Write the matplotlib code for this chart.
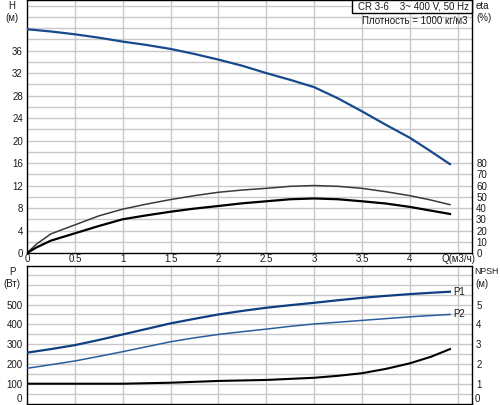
import matplotlib
matplotlib.use("Agg")
import matplotlib.pyplot as plt
from matplotlib.patches import Rectangle
import numpy as np

plt.rcParams['font.family'] = ['Liberation Sans', 'DejaVu Sans']

# ---- data ----
q_h = [0, 0.25, 0.5, 0.75, 1, 1.25, 1.5, 1.75, 2, 2.25, 2.5, 2.75, 3, 3.25, 3.5, 3.75, 4, 4.2, 4.42]
head = [39.8, 39.4, 38.9, 38.3, 37.6, 37.0, 36.3, 35.4, 34.4, 33.3, 32.0, 30.8, 29.5, 27.5,
        25.2, 22.8, 20.5, 18.3, 15.8]

q_eta = [0, 0.1, 0.25, 0.5, 0.75, 1, 1.25, 1.5, 1.75, 2, 2.25, 2.5, 2.75, 3, 3.25, 3.5, 3.75, 4, 4.2, 4.42]
eta_pump = [0, 8, 17, 25, 33, 39, 43.5, 47.5, 51, 54, 56, 57.5, 59.3, 60, 59.3, 57.5, 54.5, 51,
            47.5, 43]
eta_total = [0, 5, 11, 17.5, 24, 30, 33.5, 36.7, 39.5, 41.8, 44.2, 46, 47.8, 48.5, 47.8, 46, 44,
             41, 38, 34.7]

q_p = [0, 0.25, 0.5, 0.75, 1, 1.25, 1.5, 1.75, 2, 2.25, 2.5, 2.75, 3, 3.25, 3.5, 3.75, 4, 4.2, 4.42]
p1 = [257, 275, 295, 321, 349, 377, 405, 428, 450, 468, 484, 497, 509, 522, 534, 544, 553, 559, 565]
p2 = [178, 196, 215, 238, 262, 287, 312, 332, 349, 363, 376, 390, 402, 411, 420, 429, 438, 444, 450]

q_npsh = [0, 0.5, 1, 1.5, 2, 2.5, 3, 3.25, 3.5, 3.75, 4, 4.22, 4.42]
npsh = [1.0, 1.0, 1.0, 1.05, 1.14, 1.19, 1.30, 1.40, 1.53, 1.75, 2.03, 2.36, 2.75]

x_ticks = [0, 0.5, 1, 1.5, 2, 2.5, 3, 3.5, 4]
x_ticklabels = ['0', '0.5', '1', '1.5', '2', '2.5', '3', '3.5', '4']
h_ticks = [0, 4, 8, 12, 16, 20, 24, 28, 32, 36]
eta_ticks = [0, 10, 20, 30, 40, 50, 60, 70, 80]
p_ticks = [100, 200, 300, 400, 500]
npsh_ticks = [1, 2, 3, 4, 5]

W, H = 500, 405
fig = plt.figure(figsize=(5, 4.05), dpi=100)

def fx(px):
    return px / W

def fy(py):
    return 1 - py / H

L, R = 27, 472
ax1 = fig.add_axes([fx(L), fy(253), fx(R - L), fy(0) - fy(253)])
ax2 = fig.add_axes([fx(L), fy(403.5), fx(R - L), fy(266) - fy(403.5)])

grid_c = '#c9c9c9'
fs = 7
tc = '#1a1a1a'
XMAX = 4.65

for ax in (ax1, ax2):
    ax.set_xlim(0, XMAX)
    for v in np.arange(0.5, 4.51, 0.5):
        ax.axvline(v, color=grid_c, lw=1, zorder=0)
    for s in ax.spines.values():
        s.set_linewidth(1.0)
        s.set_color('black')
    ax.tick_params(length=0, labelsize=fs, colors=tc, pad=3)

# top axes
ax1.set_ylim(0, 45)
for v in np.arange(2, 45, 2):
    ax1.axhline(v, color=grid_c, lw=1, zorder=0)
ax1.set_yticks(h_ticks)
ax1.set_xticks(x_ticks)
ax1.set_xticklabels(x_ticklabels)
ax1.tick_params(axis='x', pad=1)
ax1.plot(q_h, head, color='#174a8c', lw=1.6, zorder=3)

ax1r = ax1.twinx()
ax1r.set_ylim(0, 225)
ax1r.set_yticks(eta_ticks)
ax1r.tick_params(length=0, labelsize=fs, colors=tc, pad=3)
for s in ax1r.spines.values():
    s.set_visible(False)
ax1r.plot(q_eta, eta_pump, color='#3a3a3a', lw=1.1, zorder=3)
ax1r.plot(q_eta, eta_total, color='black', lw=1.6, zorder=3)

fig.text(fx(458), fy(259), 'Q(м3/ч)', fontsize=fs, color=tc, ha='center', va='center')

# box and density
fig.patches.append(Rectangle((fx(352), fy(13)), fx(472) - fx(352), fy(0) - fy(13),
                             transform=fig.transFigure, fc='white', ec='black', lw=1,
                             zorder=5))
fig.text(fx(413), fy(6.5), 'CR 3-6    3~ 400 V, 50 Hz', fontsize=fs, color=tc,
         ha='center', va='center', zorder=6)
fig.text(fx(467), fy(21), 'Плотность = 1000 кг/м3', fontsize=fs, color=tc,
         ha='right', va='center')

fig.text(fx(12), fy(6), 'H', fontsize=fs, color=tc, ha='center', va='center')
fig.text(fx(12), fy(18), '(м)', fontsize=fs, color=tc, ha='center', va='center')
fig.text(fx(476), fy(6), 'eta', fontsize=fs, color=tc, ha='left', va='center')
fig.text(fx(476), fy(18), '(%)', fontsize=fs, color=tc, ha='left', va='center')

# bottom axes
ax2.set_ylim(0, 695)
for v in np.arange(50, 695, 50):
    ax2.axhline(v, color=grid_c, lw=1, zorder=0)
ax2.set_yticks(p_ticks)
ax2.set_xticks([])
ax2.plot(q_p, p1, color='#0f3f80', lw=1.6, zorder=3)
ax2.plot(q_p, p2, color='#2a5d9c', lw=1.1, zorder=3)
ax2.text(q_p[-1] + 0.03, p1[-1], 'P1', fontsize=fs, color=tc, ha='left', va='center')
ax2.text(q_p[-1] + 0.03, p2[-1], 'P2', fontsize=fs, color=tc, ha='left', va='center')

ax2r = ax2.twinx()
ax2r.set_ylim(0, 6.95)
ax2r.set_yticks(npsh_ticks)
ax2r.tick_params(length=0, labelsize=fs, colors=tc, pad=3)
for s in ax2r.spines.values():
    s.set_visible(False)
ax2r.plot(q_npsh, npsh, color='black', lw=1.5, zorder=3)

# zero labels lifted to stay inside the image
fig.text(fx(22), fy(399), '0', fontsize=fs, color=tc, ha='right', va='center')
fig.text(fx(475), fy(399), '0', fontsize=fs, color=tc, ha='left', va='center')

fig.text(fx(12), fy(272), 'P', fontsize=fs, color=tc, ha='center', va='center')
fig.text(fx(12), fy(284), '(Вт)', fontsize=fs, color=tc, ha='center', va='center')
fig.text(fx(474), fy(272), 'NPSH', fontsize=6.3, color=tc, ha='left', va='center')
fig.text(fx(475), fy(284), '(м)', fontsize=fs, color=tc, ha='left', va='center')

fig.savefig('out.png', dpi=100)
